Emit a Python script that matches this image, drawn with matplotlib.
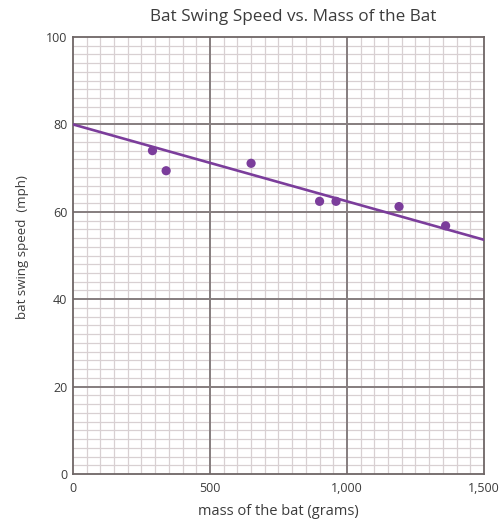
import matplotlib
matplotlib.use("Agg")
import matplotlib.pyplot as plt
from matplotlib.ticker import MultipleLocator

# Measured bat masses (grams) and swing speeds (mph)
mass_g = [290, 340, 650, 900, 960, 1190, 1360]
speed_mph = [74.0, 69.4, 71.1, 62.4, 62.4, 61.2, 56.8]

# Best-fit line endpoints
fit_mass = [0, 1500]
fit_speed = [80.0, 53.6]

x_ticks = [0, 500, 1000, 1500]
x_tick_labels = ["0", "500", "1,000", "1,500"]
y_ticks = [0, 20, 40, 60, 80, 100]

purple = "#7b3d9b"
minor_col = "#d8d0d2"
major_col = "#857d7e"
text_col = "#3c3c3c"

plt.rcParams["font.family"] = ["Open Sans", "DejaVu Sans"]

fig = plt.figure(figsize=(5.02, 5.25), dpi=100)
ax = fig.add_axes([0.1454, 0.0971, 0.8187, 0.8324])

ax.set_xlim(0, 1500)
ax.set_ylim(0, 100)

ax.xaxis.set_minor_locator(MultipleLocator(50))
ax.yaxis.set_minor_locator(MultipleLocator(2))
ax.set_xticks(x_ticks)
ax.set_xticklabels(x_tick_labels)
ax.set_yticks(y_ticks)

# fine graph-paper grid underneath, heavier lines on the major ticks above it
ax.grid(which="minor", color=minor_col, linewidth=0.9)
ax.grid(which="major", visible=False)
ax.set_axisbelow(True)
for xv in x_ticks[1:-1]:
    ax.axvline(xv, color=major_col, linewidth=1.4, zorder=1)
for yv in y_ticks[1:-1]:
    ax.axhline(yv, color=major_col, linewidth=1.4, zorder=1)

ax.tick_params(which="both", length=0, labelsize=9, colors=text_col)
ax.tick_params(axis="x", pad=6)
ax.tick_params(axis="y", pad=4)
for s in ax.spines.values():
    s.set_color("#6e6666")
    s.set_linewidth(1.3)
    s.set_zorder(2)

ax.plot(fit_mass, fit_speed, color=purple, linewidth=1.9, zorder=3)
ax.scatter(mass_g, speed_mph, s=44, color=purple, zorder=4, edgecolors="none")

fig.text(293 / 502, 1 - 17 / 525, "Bat Swing Speed vs. Mass of the Bat",
         fontsize=12.3, color=text_col, ha="center", va="center")
ax.set_xlabel("mass of the bat (grams)", fontsize=10.5, color=text_col)
ax.set_ylabel("bat swing speed  (mph)", fontsize=9.5, color=text_col)
ax.xaxis.set_label_coords(0.5, -0.068)
ax.yaxis.set_label_coords(-0.106, 0.52)

fig.savefig("out.png", dpi=100, facecolor="white")
